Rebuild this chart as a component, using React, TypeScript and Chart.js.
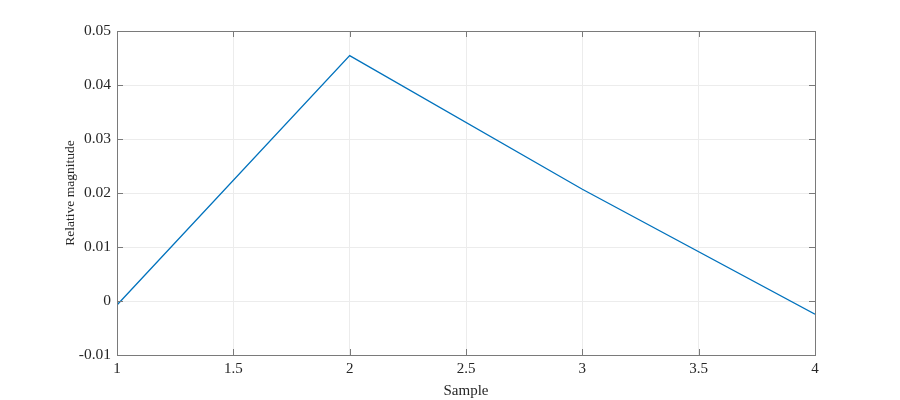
import React, { useEffect, useRef } from "react";
import { Chart, registerables } from "chart.js";

Chart.register(...registerables);

const sampleX = [1, 2, 3, 4];
const magnitude = [-0.00074, 0.04543, 0.0207, -0.00246];
const xTicks = [1, 1.5, 2, 2.5, 3, 3.5, 4];
const yTicks = [-0.01, 0, 0.01, 0.02, 0.03, 0.04, 0.05];

const FONT = "'Liberation Serif', 'Times New Roman', serif";

const boxPlugin = {
  id: "matlabBox",
  afterDraw(chart: any) {
    const { ctx, chartArea } = chart;
    const { left, right, top, bottom } = chartArea;
    const xs = chart.scales.x;
    const ys = chart.scales.y;
    const tl = 6;
    ctx.save();
    ctx.strokeStyle = "#7a7a7a";
    ctx.lineWidth = 1;
    ctx.beginPath();
    for (const t of xTicks) {
      const px = Math.round(xs.getPixelForValue(t)) + 0.5;
      ctx.moveTo(px, bottom);
      ctx.lineTo(px, bottom - tl);
      ctx.moveTo(px, top);
      ctx.lineTo(px, top + tl);
    }
    for (const t of yTicks) {
      const py = Math.round(ys.getPixelForValue(t)) + 0.5;
      ctx.moveTo(left, py);
      ctx.lineTo(left + tl, py);
      ctx.moveTo(right, py);
      ctx.lineTo(right - tl, py);
    }
    ctx.stroke();
    ctx.strokeRect(Math.round(left) + 0.5, Math.round(top) + 0.5, Math.round(right - left), Math.round(bottom - top));
    ctx.restore();
  },
};

export default function App() {
  const ref = useRef<HTMLCanvasElement | null>(null);
  useEffect(() => {
    document.body.style.margin = "0";
    const canvas = ref.current!;
    const chart = new Chart(canvas, {
      type: "line",
      data: {
        datasets: [
          {
            data: sampleX.map((x, i) => ({ x, y: magnitude[i] })),
            borderColor: "#0072BD",
            borderWidth: 1.3,
            pointRadius: 0,
            fill: false,
            tension: 0,
          },
        ],
      },
      options: {
        animation: false,
        responsive: false,
        maintainAspectRatio: false,
        layout: { padding: { top: 31, right: 85, left: 0, bottom: 0 } },
        plugins: { legend: { display: false }, tooltip: { enabled: false } },
        scales: {
          x: {
            type: "linear",
            min: 1,
            max: 4,
            afterFit: (s: any) => {
              s.height = 45;
            },
            afterBuildTicks: (s: any) => {
              s.ticks = xTicks.map((v) => ({ value: v }));
            },
            ticks: {
              font: { family: FONT, size: 15 },
              color: "#262626",
              padding: 5,
              maxRotation: 0,
              callback: (v: any) => String(Number(Number(v).toFixed(2))),
            },
            grid: { color: "#ececec", drawTicks: false },
            border: { display: false },
            title: {
              display: true,
              text: "Sample",
              font: { family: FONT, size: 15 },
              color: "#262626",
              padding: { top: 1, bottom: 0 },
            },
          },
          y: {
            type: "linear",
            min: -0.01,
            max: 0.05,
            afterFit: (s: any) => {
              s.width = 117;
            },
            afterBuildTicks: (s: any) => {
              s.ticks = yTicks.map((v) => ({ value: v }));
            },
            ticks: {
              font: { family: FONT, size: 15.5 },
              color: "#262626",
              padding: 6,
              callback: (v: any) => String(Number(Number(v).toFixed(3))),
            },
            grid: { color: "#ececec", drawTicks: false },
            border: { display: false },
            title: {
              display: true,
              text: "Relative magnitude",
              font: { family: FONT, size: 13.5 },
              color: "#262626",
              padding: { top: 62, bottom: 0 },
            },
          },
        },
      },
      plugins: [boxPlugin],
    });
    return () => chart.destroy();
  }, []);
  return (
    <div style={{ width: 900, height: 400 }}>
      <canvas ref={ref} width={900} height={400} style={{ display: "block" }} />
    </div>
  );
}
